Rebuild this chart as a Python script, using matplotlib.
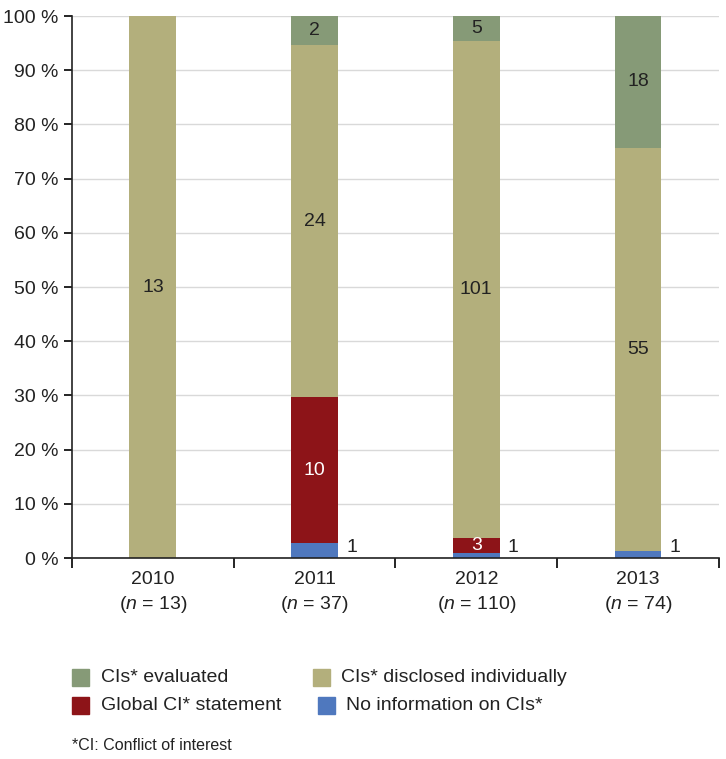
import matplotlib
matplotlib.use('agg')
import matplotlib.pyplot as plt
from matplotlib.patches import Rectangle
import numpy as np

# Data: counts per year
years = ['2010', '2011', '2012', '2013']
n_total = [13, 37, 110, 74]
no_info = [0, 1, 1, 1]
global_stmt = [0, 10, 3, 0]
disclosed = [13, 24, 101, 55]
evaluated = [0, 2, 5, 18]

series_names = ['No information on CIs*', 'Global CI* statement',
                'CIs* disclosed individually', 'CIs* evaluated']
colors = ['#4f78be', '#8d1418', '#b3af7c', '#869a77']
text_colors = ['#222222', 'white', '#222222', '#222222']

plt.rcParams['font.family'] = ['Liberation Sans', 'DejaVu Sans']
plt.rcParams['mathtext.fontset'] = 'custom'
plt.rcParams['mathtext.it'] = 'Liberation Sans:italic'
plt.rcParams['mathtext.rm'] = 'Liberation Sans'

fs = 14
fig = plt.figure(figsize=(7.26, 7.59), dpi=100)
ax = fig.add_axes([0.0992, 0.2648, 0.891, 0.7141])

x = np.arange(len(years))
data = [no_info, global_stmt, disclosed, evaluated]
totals = np.array(n_total, dtype=float)
bottom = np.zeros(len(years))
width = 0.29
for s, (vals, col, tc) in enumerate(zip(data, colors, text_colors)):
    pct = np.array(vals) / totals * 100
    ax.bar(x, pct, width, bottom=bottom, color=col, zorder=2)
    for i, v in enumerate(vals):
        if v == 0:
            continue
        if s == 0:
            # small segment: label to the right of the bar
            ax.text(x[i] + width / 2 + 0.05, 2.0, str(v),
                    ha='left', va='center', fontsize=fs, color='#222222')
        else:
            ax.text(x[i], bottom[i] + pct[i] / 2, str(v), ha='center',
                    va='center', fontsize=fs, color=tc)
    bottom += pct

ax.set_xlim(-0.5, 3.5)
ax.set_ylim(0, 100)
ax.set_yticks(np.arange(0, 101, 10))
ax.set_yticklabels(['%d %%' % v for v in range(0, 101, 10)], fontsize=fs,
                   color='#222222')
ax.yaxis.grid(True, color='#d9d9d9', linewidth=1, zorder=0)
ax.set_axisbelow(True)

ax.set_xticks(np.arange(-0.5, 4, 1))
ax.set_xticklabels([])
ax.set_xticks(x, minor=True)
ax.set_xticklabels(['%s\n($\\it{n}$ = %d)' % (y, n) for y, n in zip(years, n_total)],
                   minor=True, fontsize=fs, color='#222222', linespacing=1.4)
ax.tick_params(axis='x', which='minor', length=0, pad=9)
ax.tick_params(axis='x', which='major', length=7, width=1.2, direction='out')
ax.tick_params(axis='y', length=6, width=1.2, direction='out', pad=4)

for side in ['top', 'right']:
    ax.spines[side].set_visible(False)
for side in ['left', 'bottom']:
    ax.spines[side].set_linewidth(1.2)
    ax.spines[side].set_color('#222222')

# Legend drawn by hand (pixel layout of the original)
W, H = 726.0, 759.0
legend_items = [
    (series_names[3], colors[3], 72, 101, 677),
    (series_names[2], colors[2], 313, 341, 677),
    (series_names[1], colors[1], 72, 101, 705),
    (series_names[0], colors[0], 318, 346, 705),
]
sq = 17
for label, col, sx, tx, cy in legend_items:
    fig.patches.append(Rectangle((sx / W, 1 - (cy + sq / 2) / H), sq / W, sq / H,
                                 transform=fig.transFigure, color=col))
    fig.text(tx / W, 1 - cy / H, label, fontsize=fs, color='#222222',
             va='center', ha='left')

fig.text(72 / W, 1 - 745 / H, '*CI: Conflict of interest', fontsize=11.5,
         color='#222222', va='center')

fig.savefig('out.png', dpi=100, facecolor='white')
